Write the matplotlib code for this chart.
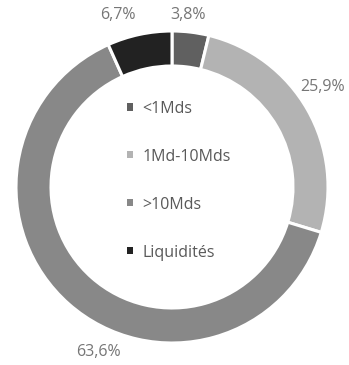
import matplotlib.pyplot as plt

# données
categories = ['<1Mds', '1Md-10Mds', '>10Mds', 'Liquidités']
values = [3.8, 25.9, 63.6, 6.7]
pct_labels = ['3,8%', '25,9%', '63,6%', '6,7%']
colors = ['#606060', '#b3b3b3', '#888888', '#222222']
# position des étiquettes (comme dans Excel, "bord extérieur")
label_pos = [(188, 350), (323, 278), (98, 13), (118, 350)]

plt.rcParams['font.family'] = ['Open Sans', 'DejaVu Sans']

fig = plt.figure(figsize=(3.49, 3.65), dpi=100)
ax = fig.add_axes([0, 0, 1, 1])

wedges, texts = ax.pie(values, labels=pct_labels, colors=colors,
                       startangle=90, counterclock=False,
                       center=(172, 178), radius=156,
                       wedgeprops=dict(width=35, edgecolor='white', linewidth=2.2),
                       textprops=dict(color='#767676', fontsize=11.5))
for t, p in zip(texts, label_pos):
    t.set_position(p)
    t.set_ha('center')
    t.set_va('center')

ax.set_xlim(0, 349)
ax.set_ylim(0, 365)
ax.set_aspect('equal')
ax.axis('off')

leg = ax.legend(wedges, categories, loc='center', bbox_to_anchor=(0.512, 0.505),
                frameon=False, fontsize=11.5, labelcolor='#595959',
                handlelength=0.4, handleheight=0.3, handletextpad=0.55,
                labelspacing=2.0)
for h in leg.legend_handles:
    h.set_edgecolor('none')

plt.savefig('out.png', dpi=100)
